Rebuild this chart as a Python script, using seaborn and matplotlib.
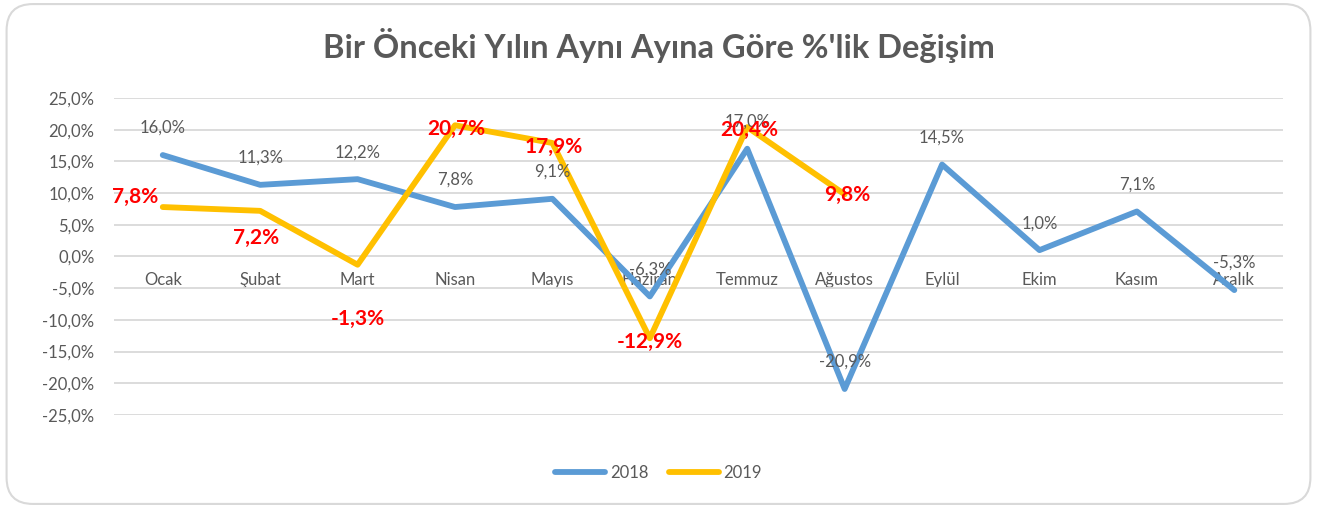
import pandas as pd
import matplotlib
matplotlib.use('Agg')
import matplotlib.pyplot as plt
from matplotlib.patches import FancyBboxPatch
from matplotlib.lines import Line2D
from matplotlib.ticker import FuncFormatter
import seaborn as sns

# chart data
months = ["Ocak", "Şubat", "Mart", "Nisan", "Mayıs", "Haziran",
          "Temmuz", "Ağustos", "Eylül", "Ekim", "Kasım", "Aralık"]
change_2018 = [16.0, 11.3, 12.2, 7.8, 9.1, -6.3, 17.0, -20.9, 14.5, 1.0, 7.1, -5.3]
change_2019 = [7.8, 7.2, -1.3, 20.7, 17.9, -12.9, 20.4, 9.8]
y_ticks = [-25, -20, -15, -10, -5, 0, 5, 10, 15, 20, 25]

# label offsets in pixels (layout only)
offsets_2019 = [(-28, 10), (-4, -27), (0, -54), (1, -4), (1, -4), (0, -4), (2, -3), (3, -1)]

BLUE = "#5B9BD5"
GOLD = "#FFC000"
GRAY = "#595959"

sns.set_style("white")
plt.rcParams['font.family'] = ['Lato', 'DejaVu Sans']

fig = plt.figure(figsize=(13.17, 5.08), dpi=100)
ax = fig.add_axes([0.0866, 0.1831, 0.8876, 0.624])

df18 = pd.DataFrame({"ay": months, "deger": change_2018})
df19 = pd.DataFrame({"ay": months[:len(change_2019)], "deger": change_2019})

sns.lineplot(data=df18, x="ay", y="deger", color=BLUE, linewidth=4.2, sort=False, ax=ax,
             solid_joinstyle="round", solid_capstyle="round", zorder=3)
sns.lineplot(data=df19, x="ay", y="deger", color=GOLD, linewidth=4.2, sort=False, ax=ax,
             solid_joinstyle="round", solid_capstyle="round", zorder=4)

ax.set_xlim(-0.5, len(months) - 0.5)
ax.set_ylim(-25, 25)
ax.set_yticks(y_ticks)
ax.yaxis.set_major_formatter(FuncFormatter(lambda v, p: f"{v:.1f}%".replace(".", ",")))
ax.grid(axis="y", color="#D9D9D9", linewidth=1.3)
ax.grid(axis="x", visible=False)
for s in ax.spines.values():
    s.set_visible(False)
ax.spines["bottom"].set_position(("data", 0))
ax.tick_params(axis="x", length=0, pad=11, labelsize=12, labelcolor=GRAY)
ax.tick_params(axis="y", length=0, pad=14, labelsize=12, labelcolor=GRAY)
ax.set_xlabel("")
ax.set_ylabel("")

for i, v in enumerate(change_2018):
    ax.annotate(f"{v:.1f}%".replace(".", ","), (i, v), xytext=(0, 27), textcoords="offset pixels",
                ha="center", va="center", fontsize=12, color=GRAY, zorder=5)
for i, v in enumerate(change_2019):
    ax.annotate(f"{v:.1f}%".replace(".", ","), (i, v), xytext=offsets_2019[i], textcoords="offset pixels",
                ha="center", va="center", fontsize=15, fontweight="bold", color="#FF0000", zorder=6)

fig.text(0.5, 0.91, "Bir Önceki Yılın Aynı Ayına Göre %'lik Değişim", ha="center", va="center",
         fontsize=23.5, fontweight="bold", color=GRAY)

handles = [Line2D([], [], color=BLUE, linewidth=4.2, solid_capstyle="round"),
           Line2D([], [], color=GOLD, linewidth=4.2, solid_capstyle="round")]
fig.legend(handles, ["2018", "2019"], loc="center", bbox_to_anchor=(0.5, 0.069), ncol=2, frameon=False,
           fontsize=12, labelcolor=GRAY, handlelength=3.0, handletextpad=0.3, columnspacing=1.2)

border = FancyBboxPatch((0.005, 0.008), 0.99, 0.984, boxstyle="round,pad=0,rounding_size=0.02",
                        transform=fig.transFigure, fill=False, edgecolor="#D9D9D9", linewidth=1.5,
                        mutation_aspect=1317 / 508)
fig.patches.append(border)

fig.savefig("out.png", dpi=100)
